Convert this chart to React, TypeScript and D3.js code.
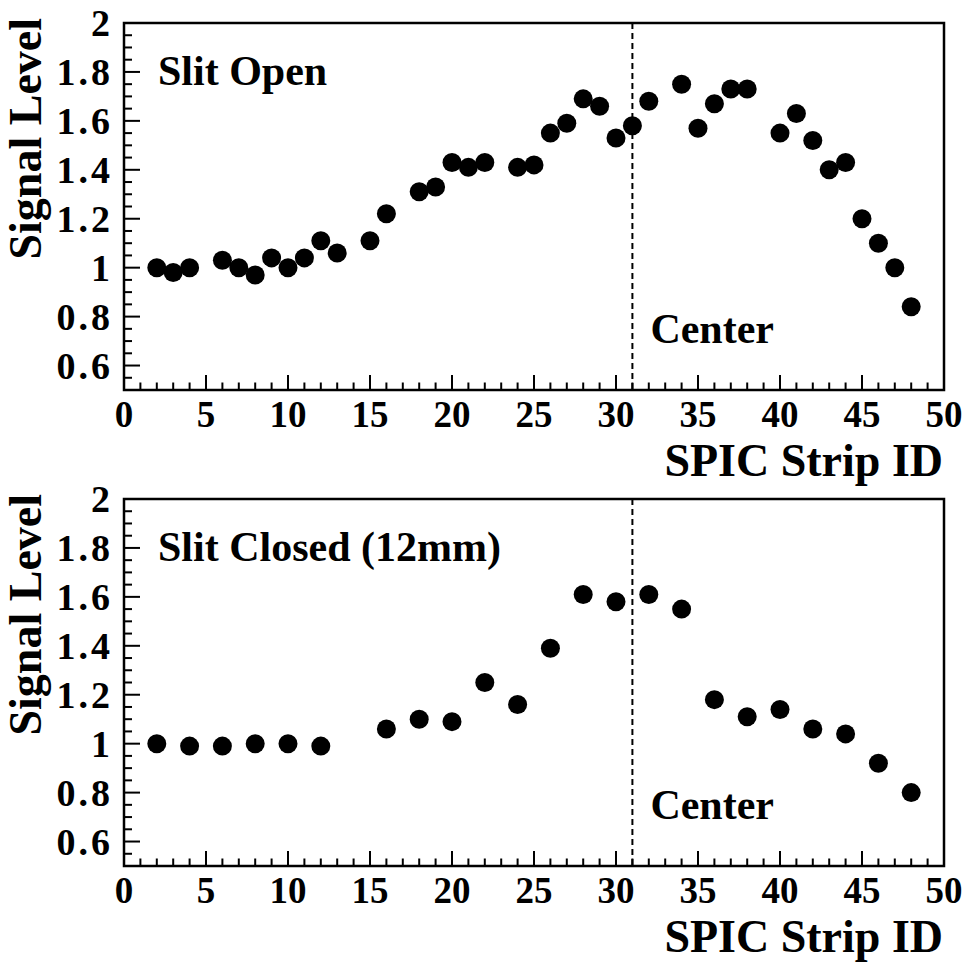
import React, { useEffect, useRef } from "react";
import * as d3 from "d3";

// strip IDs and normalised signal, slit open
const openStrip = [2, 3, 4, 6, 7, 8, 9, 10, 11, 12, 13, 15, 16, 18, 19, 20, 21, 22, 24, 25, 26, 27, 28, 29, 30, 31, 32, 34, 35, 36, 37, 38, 40, 41, 42, 43, 44, 45, 46, 47, 48];
const openSignal = [1.0, 0.98, 1.0, 1.03, 1.0, 0.97, 1.04, 1.0, 1.04, 1.11, 1.06, 1.11, 1.22, 1.31, 1.33, 1.43, 1.41, 1.43, 1.41, 1.42, 1.55, 1.59, 1.69, 1.66, 1.53, 1.58, 1.68, 1.75, 1.57, 1.67, 1.73, 1.73, 1.55, 1.63, 1.52, 1.4, 1.43, 1.2, 1.1, 1.0, 0.84];

// slit closed (12mm)
const closedStrip = [2, 4, 6, 8, 10, 12, 16, 18, 20, 22, 24, 26, 28, 30, 32, 34, 36, 38, 40, 42, 44, 46, 48];
const closedSignal = [1.0, 0.99, 0.99, 1.0, 1.0, 0.99, 1.06, 1.1, 1.09, 1.25, 1.16, 1.39, 1.61, 1.58, 1.61, 1.55, 1.18, 1.11, 1.14, 1.06, 1.04, 0.92, 0.8];

const xTicks = [0, 5, 10, 15, 20, 25, 30, 35, 40, 45, 50];
const yTicks = [0.6, 0.8, 1, 1.2, 1.4, 1.6, 1.8, 2];
const centerStrip = 31;

const panels = [
  { label: "Slit Open", strip: openStrip, signal: openSignal },
  { label: "Slit Closed (12mm)", strip: closedStrip, signal: closedSignal },
];

const FONT = "'Liberation Serif', 'Times New Roman', serif";

const App = () => {
  const svgRef = useRef<SVGSVGElement | null>(null);

  useEffect(() => {
    const W = 969;
    const H = 966;
    const panelH = 476;
    const margin = { top: 23, right: 25, bottom: 83, left: 124 };
    const width = W - margin.left - margin.right;
    const height = panelH - margin.top - margin.bottom - 3;

    const root = d3.select(svgRef.current).attr("width", W).attr("height", H);
    root.selectAll("*").remove();
    root.append("rect").attr("width", W).attr("height", H).attr("fill", "#fff");

    const x = d3.scaleLinear().domain([0, 50]).range([0, width]);
    const y = d3.scaleLinear().domain([0.5, 2]).range([height, 0]);

    panels.forEach((p, i) => {
      const g = root
        .append("g")
        .attr("transform", `translate(${margin.left},${margin.top + i * panelH})`)
        .style("font-family", FONT)
        .style("font-weight", "bold");

      // minor + major ticks, bottom axis
      g.selectAll(".xt")
        .data(d3.range(0, 51, 1))
        .enter()
        .append("line")
        .attr("x1", (d) => x(d))
        .attr("x2", (d) => x(d))
        .attr("y1", height)
        .attr("y2", (d) => height - (d % 5 === 0 ? 15 : 7.5))
        .attr("stroke", "#000")
        .attr("stroke-width", 2);

      // left axis ticks, every 0.05
      g.selectAll(".yt")
        .data(d3.range(10, 41, 1).map((k) => k * 0.05))
        .enter()
        .append("line")
        .attr("x1", 0)
        .attr("x2", (d) => (Math.round(d * 100) % 20 === 0 ? 16 : 8))
        .attr("y1", (d) => y(d))
        .attr("y2", (d) => y(d))
        .attr("stroke", "#000")
        .attr("stroke-width", 2);

      g.append("rect")
        .attr("x", 0)
        .attr("y", 0)
        .attr("width", width)
        .attr("height", height)
        .attr("fill", "none")
        .attr("stroke", "#000")
        .attr("stroke-width", 2.5);

      g.selectAll(".xl")
        .data(xTicks)
        .enter()
        .append("text")
        .attr("x", (d) => x(d))
        .attr("y", height + 37)
        .attr("text-anchor", "middle")
        .style("font-size", "37px")
        .text((d) => d);

      g.selectAll(".yl")
        .data(yTicks)
        .enter()
        .append("text")
        .attr("x", -11)
        .attr("y", (d) => y(d))
        .attr("dy", "0.35em")
        .attr("text-anchor", "end")
        .style("font-size", "38px")
        .style("letter-spacing", "3px")
        .text((d) => d);

      g.append("text")
        .attr("x", width - 1)
        .attr("y", height + 86)
        .attr("text-anchor", "end")
        .style("font-size", "46px")
        .text("SPIC Strip ID");

      g.append("text")
        .attr("transform", `translate(-83,-5) rotate(-90)`)
        .attr("text-anchor", "end")
        .style("font-size", "46px")
        .text("Signal Level");

      g.append("line")
        .attr("x1", x(centerStrip))
        .attr("x2", x(centerStrip))
        .attr("y1", 0)
        .attr("y2", height)
        .attr("stroke", "#000")
        .attr("stroke-width", 2)
        .attr("stroke-dasharray", "6,4");

      g.append("text")
        .attr("x", 34)
        .attr("y", 62)
        .style("font-size", "42px")
        .text(p.label);

      g.append("text")
        .attr("x", x(centerStrip) + 18)
        .attr("y", 320)
        .style("font-size", "42px")
        .text("Center");

      g.selectAll(".pt")
        .data(p.strip.map((s, k) => [s, p.signal[k]]))
        .enter()
        .append("circle")
        .attr("cx", (d) => x(d[0]))
        .attr("cy", (d) => y(d[1]))
        .attr("r", 9.5)
        .attr("fill", "#000");
    });
  }, []);

  return (
    <div style={{ position: "absolute", left: 0, top: 0 }}>
      <svg ref={svgRef} style={{ display: "block" }} />
    </div>
  );
};

export default App;
